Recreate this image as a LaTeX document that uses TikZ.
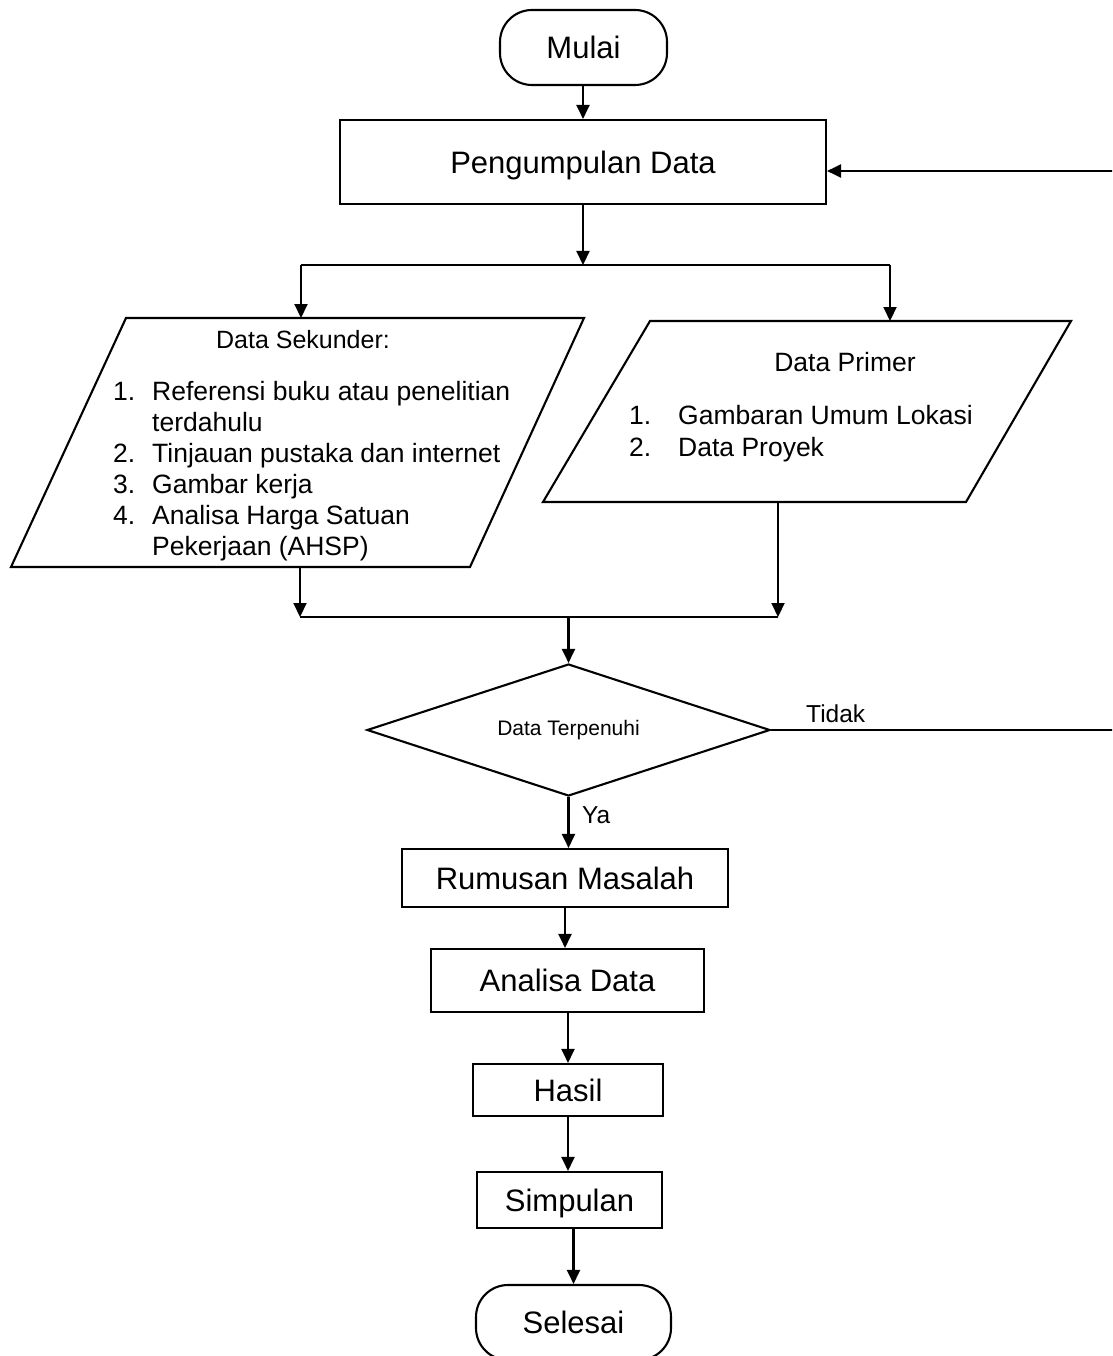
\documentclass[tikz,border=0pt]{standalone}
\usepackage{fontspec}
\setmainfont{Liberation Sans}
\usetikzlibrary{shapes.geometric,arrows.meta}
\begin{document}
\begin{tikzpicture}[x=1pt,y=-1pt,
  big/.style={font=\fontsize{31}{37}\selectfont},
  mid/.style={font=\fontsize{26.5}{31}\selectfont},
  box/.style={draw, line width=2.1pt, rectangle, inner sep=0pt, big, text height=22.2pt, text depth=0pt},
  term/.style={box, rounded corners=32pt},
  arr/.style={line width=2.1pt, -{Triangle[length=14pt,width=13pt]}},
  thinline/.style={line width=1.4pt},
  shape line/.style={draw, line width=2.1pt, line join=miter}]
\useasboundingbox (0,0) rectangle (1112,1356);
\fill[white] (0,0) rectangle (1112,1356);
\clip (0,0) rectangle (1112,1356);

% terminators and boxes
\node[term, minimum width=167pt, minimum height=75pt] (mulai) at (583.5,47.5) {Mulai};
\node[box, minimum width=486pt, minimum height=84pt] (kumpul) at (583,162) {Pengumpulan Data};

% branch
\coordinate (split) at (583,265);
\coordinate (bl) at (301,265);
\coordinate (br) at (890,265);
\draw[arr] (mulai.south -| kumpul.north) -- (kumpul.north);
\draw[arr] (kumpul.south) -- (split);
\draw[thinline] (bl) -- (br);

% parallelogram Data Sekunder
\coordinate (s1) at (126,318);
\coordinate (s2) at (584,318);
\coordinate (s3) at (470,567);
\coordinate (s4) at (11,567);
\coordinate (stop) at (301,318);
\coordinate (sbot) at (300,567);
\draw[shape line] (s1) -- (s2) -- (s3) -- (s4) -- cycle;
\node[anchor=base, font=\fontsize{25}{30}\selectfont] (sektitle) at (303,348) {Data Sekunder:};
\node[anchor=base west, mid, inner sep=0pt] (seklist) at (113,400) {\begin{tabular}[t]{@{}p{39pt}@{}l@{}}
1. & Referensi buku atau penelitian\\
   & terdahulu\\
2. & Tinjauan pustaka dan internet\\
3. & Gambar kerja\\
4. & Analisa Harga Satuan\\
   & Pekerjaan (AHSP)
\end{tabular}};

% parallelogram Data Primer
\coordinate (p1) at (650,321);
\coordinate (p2) at (1071,321);
\coordinate (p3) at (966,502);
\coordinate (p4) at (543,502);
\coordinate (ptop) at (890,321);
\coordinate (pbot) at (778,502);
\draw[shape line] (p1) -- (p2) -- (p3) -- (p4) -- cycle;
\node[anchor=base, mid] (primtitle) at (845,371) {Data Primer};
\node[anchor=base west, font=\fontsize{26.5}{32}\selectfont, inner sep=0pt] (primlist) at (629,424) {\begin{tabular}[t]{@{}p{49pt}@{}l@{}}
1. & Gambaran Umum Lokasi\\
2. & Data Proyek
\end{tabular}};

\draw[arr] (bl) -- (stop);
\draw[arr] (br) -- (ptop);

% merge
\coordinate (ml) at (300,617);
\coordinate (mr) at (778,617);
\coordinate (mm) at (568.5,617);
\draw[arr] (sbot) -- (ml);
\draw[arr] (pbot) -- (mr);
\draw[thinline] (ml) -- (mr);

% decision
\node[diamond, aspect=3, draw, line width=2.1pt, minimum width=403pt, minimum height=132pt, inner sep=0pt,
      font=\fontsize{21}{25}\selectfont] (dia) at (568.5,730) {Data Terpenuhi};
\draw[arr] (mm) -- (dia.north);

% Tidak loop
\coordinate (r1) at (1118,730);
\coordinate (r2) at (1118,171);
\draw[thinline] (dia.east) -- (r1) -- (r2);
\draw[arr] (r2) -- (r2 -| kumpul.east);
\node[anchor=base west, font=\fontsize{24.5}{29}\selectfont, inner sep=0pt] (tidak) at (806,722) {Tidak};

% lower chain
\node[box, minimum width=326pt, minimum height=58pt] (rumus) at (565,878) {Rumusan Masalah};
\node[box, minimum width=273pt, minimum height=63pt] (analisa) at (567.5,980.5) {Analisa Data};
\node[box, minimum width=190pt, minimum height=52pt] (hasil) at (568,1090) {Hasil};
\node[box, minimum width=185pt, minimum height=56pt] (simpul) at (569.5,1200) {Simpulan};
\node[term, minimum width=195pt, minimum height=75pt] (selesai) at (573.5,1322.5) {Selesai};

\draw[arr] (dia.south) -- (dia.south |- rumus.north);
\node[anchor=base west, font=\fontsize{24.5}{29}\selectfont, inner sep=0pt] (ya) at (582,823) {Ya};
\draw[arr] (rumus.south) -- (rumus.south |- analisa.north);
\draw[arr] (hasil.north |- analisa.south) -- (hasil.north);
\draw[arr] (hasil.south) -- (hasil.south |- simpul.north);
\draw[arr] (selesai.north |- simpul.south) -- (selesai.north);
\end{tikzpicture}
\end{document}
